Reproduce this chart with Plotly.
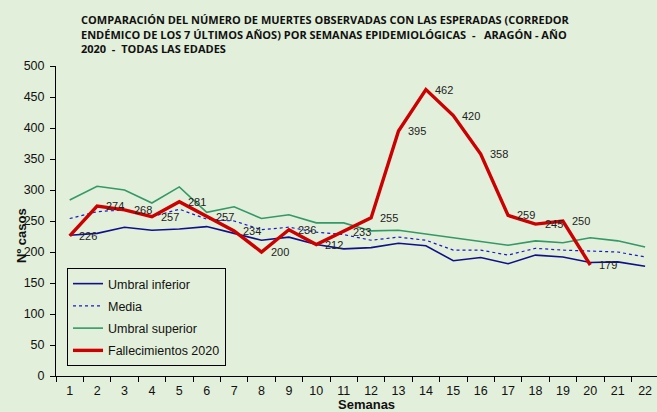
import plotly.graph_objects as go

# ---------------- data ----------------
semanas = [str(i) for i in range(1, 23)]
umbral_inferior = [227, 230, 240, 235, 237, 241, 230, 219, 224, 212, 205, 207,
                   214, 210, 186, 191, 181, 195, 192, 183, 184, 177]
media = [254, 265, 268, 257, 269, 253, 250, 236, 240, 232, 228, 219,
         224, 219, 203, 203, 195, 206, 203, 202, 200, 192]
umbral_superior = [284, 306, 300, 279, 305, 264, 273, 254, 260, 247, 247, 234,
                   235, 229, 222, 216, 211, 218, 215, 223, 218, 208]
fallecimientos_2020 = [226, 274, 268, 257, 281, 257, 234, 200, 236, 212, 233, 255,
                       395, 462, 420, 358, 259, 245, 250, 179, None, None]

title_lines = [
    "COMPARACIÓN DEL NÚMERO DE MUERTES OBSERVADAS CON LAS ESPERADAS (CORREDOR",
    "ENDÉMICO DE LOS 7 ÚLTIMOS AÑOS) POR SEMANAS EPIDEMIOLÓGICAS  -   ARAGÓN - AÑO",
    "2020  -  TODAS LAS EDADES",
]
y_title = "Nº casos"
x_title = "Semanas"

# ---------------- layout geometry ----------------
W, H = 657, 412
L, R, T, B = 56, 0, 66, 36
PW, PH = W - L - R, H - T - B
BG = "#e2efda"
FONT = "Liberation Sans, Arial, sans-serif"


def px(x):
    return (x - L) / PW


def py(y):
    return (H - B - y) / PH


fig = go.Figure()
fig.add_trace(go.Scatter(x=semanas, y=umbral_inferior, name="Umbral inferior",
                         mode="lines", line=dict(color="#10108a", width=1.6),
                         legendgroup="a"))
fig.add_trace(go.Scatter(x=semanas, y=media, name="Media",
                         mode="lines", line=dict(color="#1a1acc", width=1.2, dash="dot"),
                         legendgroup="b"))
fig.add_trace(go.Scatter(x=semanas, y=umbral_superior, name="Umbral superior",
                         mode="lines", line=dict(color="#339966", width=1.6),
                         legendgroup="c"))
fig.add_trace(go.Scatter(x=semanas, y=fallecimientos_2020, name="Fallecimientos 2020",
                         mode="lines", line=dict(color="#cc0000", width=3.4),
                         connectgaps=False, legendgroup="d"))

annotations = []
for i, v in enumerate(fallecimientos_2020):
    if v is None:
        continue
    annotations.append(dict(x=i, y=v, xref="x", yref="y", text=str(v),
                            showarrow=False, xanchor="left", yanchor="middle",
                            xshift=7, font=dict(family=FONT, size=11, color="#222222")))

title_y = [20, 35, 49]
for line, yy in zip(title_lines, title_y):
    annotations.append(dict(x=px(79), y=py(yy), xref="paper", yref="paper", text=line,
                            showarrow=False, xanchor="left", yanchor="middle",
                            font=dict(family="Open Sans, sans-serif", size=11,
                                      color="#111111", weight="bold")))

annotations.append(dict(x=px(21), y=py(236), xref="paper", yref="paper",
                        text="<b>" + y_title + "</b>", textangle=-90, showarrow=False,
                        xanchor="center", yanchor="middle",
                        font=dict(family=FONT, size=13, color="#111111")))
annotations.append(dict(x=px(366), y=py(404.5), xref="paper", yref="paper",
                        text="<b>" + x_title + "</b>", showarrow=False,
                        xanchor="center", yanchor="middle",
                        font=dict(family=FONT, size=13, color="#111111")))

fig.update_layout(
    width=W, height=H,
    margin=dict(l=L, r=R, t=T, b=B, pad=0),
    paper_bgcolor=BG, plot_bgcolor=BG,
    font=dict(family=FONT, size=12.5, color="#111111"),
    showlegend=True,
    legend=dict(x=px(67), y=py(268), xanchor="left", yanchor="top",
                bgcolor=BG, bordercolor="#000000", borderwidth=1,
                font=dict(family=FONT, size=12.5, color="#111111"),
                tracegroupgap=3, traceorder="grouped"),
    annotations=annotations,
)
fig.update_xaxes(type="category", range=[-0.5, -0.5 + PW / 27.4],
                 tickson="boundaries", ticks="outside", ticklen=5,
                 ticklabelstandoff=3,
                 tickcolor="#000000", showline=True, linecolor="#000000",
                 linewidth=1, showgrid=False, zeroline=False,
                 tickfont=dict(family=FONT, size=12.5, color="#111111"))
fig.update_yaxes(range=[0, 500], dtick=50, ticks="outside", ticklen=5,
                 ticklabelstandoff=3,
                 tickcolor="#000000", showline=True, linecolor="#000000",
                 linewidth=1, showgrid=False, zeroline=False,
                 tickfont=dict(family=FONT, size=12.5, color="#111111"))

fig.write_html("out.html",
               config={"displayModeBar": False},
               post_script="document.body.style.margin='0px';"
                           "document.body.style.background='" + BG + "';")
